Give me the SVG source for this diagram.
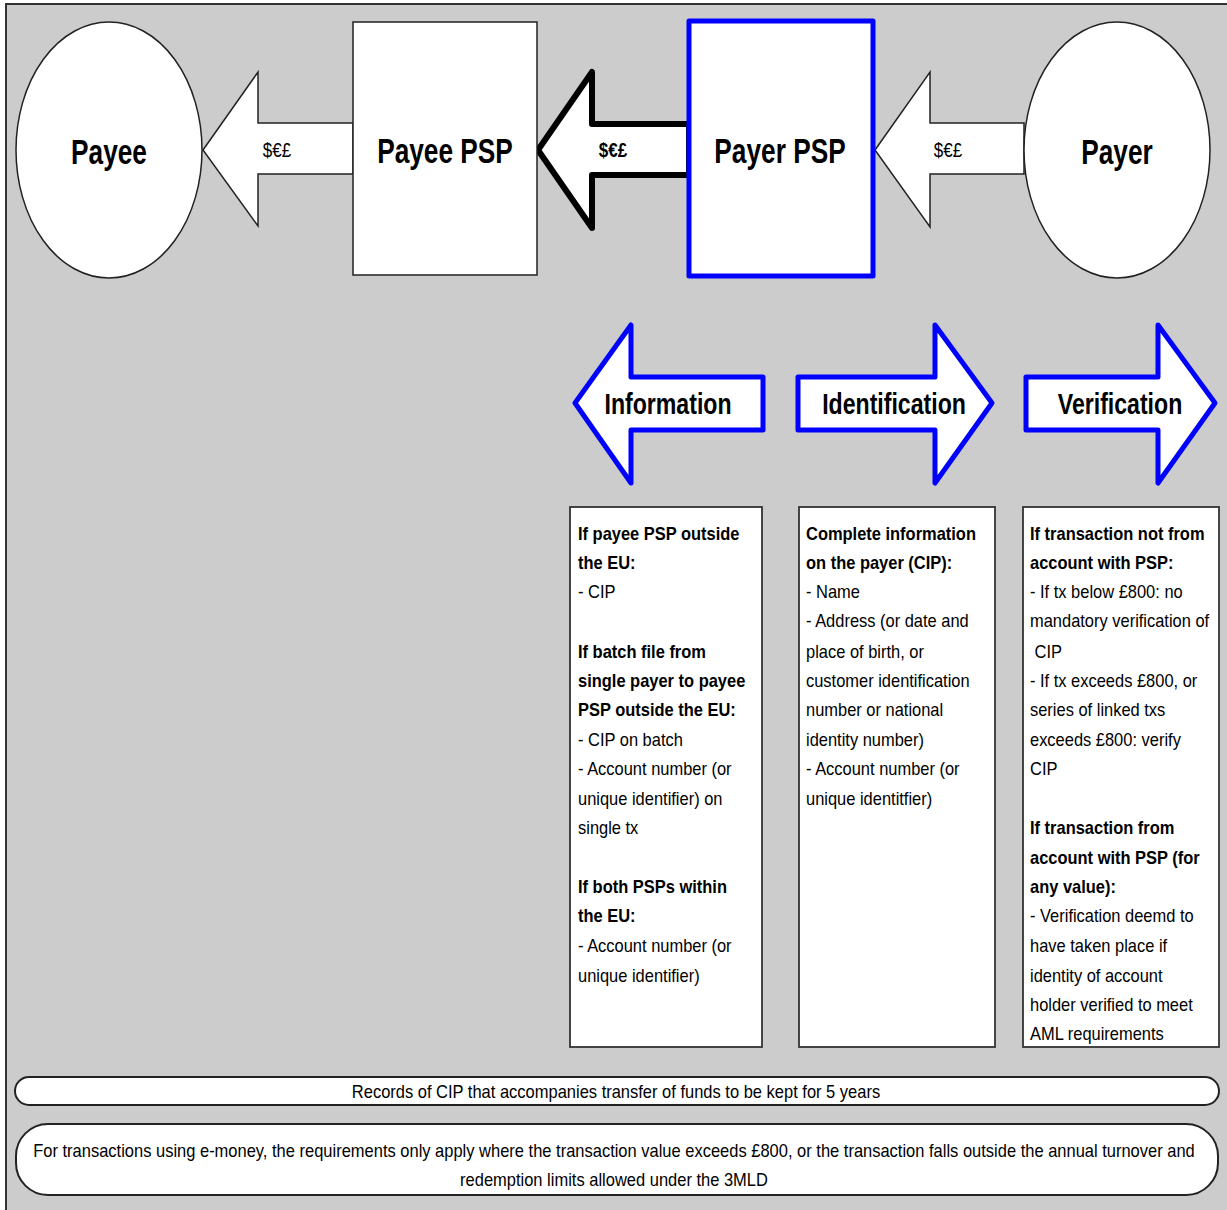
<svg xmlns="http://www.w3.org/2000/svg" width="1227" height="1210" viewBox="0 0 1227 1210">
<defs>
<style>
.bg{fill:#cccccc;stroke:#333;stroke-width:2}
.node{fill:#fff;stroke:#222;stroke-width:1.5}
.blue{fill:#fff;stroke:#0000ff;stroke-width:5;stroke-linejoin:round}
.thin{fill:#fff;stroke:#222;stroke-width:1.5;stroke-linejoin:miter}
.thick{fill:#fff;stroke:#000;stroke-width:6;stroke-linejoin:round}
.box{fill:#fff;stroke:#333;stroke-width:1.8}
.pill{fill:#fff;stroke:#222;stroke-width:2}
text{font-family:"Liberation Sans",Arial,sans-serif;fill:#000}
.big{font-size:35px;font-weight:bold;text-anchor:middle}
.mid{font-size:30px;font-weight:bold;text-anchor:middle}
.cur{font-size:20px;text-anchor:middle}
.t{font-size:19px}
.b{font-weight:bold}
.c{text-anchor:middle;font-size:19px}
</style>
</defs>
<rect class="bg" x="6" y="4" width="1230" height="1220"/>

<g id="connectors">
<path class="thin" d="M203,150 L258,72 L258,123 L353,123 L353,174 L258,174 L258,226 Z"/>
<g transform="translate(277,0) scale(0.85,1)"><text class="cur" x="0" y="157">$€£</text></g>
<path class="thick" d="M538,150 L592,72 L592,124 L689,124 L689,175 L592,175 L592,228 Z"/>
<g transform="translate(613,0) scale(0.85,1)"><text class="cur b" x="0" y="157">$€£</text></g>
<path class="thin" d="M875,150 L930,72 L930,123 L1024,123 L1024,174 L930,174 L930,227 Z"/>
<g transform="translate(948,0) scale(0.85,1)"><text class="cur" x="0" y="157">$€£</text></g>
</g>

<g id="payee">
<ellipse class="node" cx="109" cy="150" rx="93" ry="128"/>
<g transform="translate(109,0) scale(0.75,1)"><text class="big" x="0" y="164">Payee</text></g>
</g>
<g id="payee-psp">
<rect class="node" x="353" y="22" width="184" height="253"/>
<g transform="translate(445,0) scale(0.75,1)"><text class="big" x="0" y="163">Payee PSP</text></g>
</g>
<g id="payer-psp">
<rect class="blue" x="689" y="21" width="184" height="255" stroke-linejoin="miter"/>
<g transform="translate(780,0) scale(0.75,1)"><text class="big" x="0" y="163">Payer PSP</text></g>
</g>
<g id="payer">
<ellipse class="node" cx="1117" cy="150" rx="93" ry="128"/>
<g transform="translate(1117,0) scale(0.75,1)"><text class="big" x="0" y="164">Payer</text></g>
</g>

<g id="information">
<path class="blue" d="M575,403 L631,325 L631,377 L763,377 L763,430 L631,430 L631,483 Z"/>
<g transform="translate(668,0) scale(0.77,1)"><text class="mid" x="0" y="414">Information</text></g>
</g>
<g id="identification">
<path class="blue" d="M798,377 L935,377 L935,325 L992,403 L935,483 L935,430 L798,430 Z"/>
<g transform="translate(894,0) scale(0.77,1)"><text class="mid" x="0" y="414">Identification</text></g>
</g>
<g id="verification">
<path class="blue" d="M1026,377 L1158,377 L1158,325 L1215,403 L1158,483 L1158,430 L1026,430 Z"/>
<g transform="translate(1120,0) scale(0.77,1)"><text class="mid" x="0" y="414">Verification</text></g>
</g>

<g id="info-box">
<rect class="box" x="570" y="507" width="192" height="540"/>
<g transform="translate(578,0) scale(0.866,1)">
<text class="t">
<tspan class="b" x="0" y="540">If payee PSP outside</tspan>
<tspan class="b" x="0" y="569">the EU:</tspan>
<tspan x="0" y="598">- CIP</tspan>
<tspan class="b" x="0" y="658">If batch file from</tspan>
<tspan class="b" x="0" y="687">single payer to payee</tspan>
<tspan class="b" x="0" y="716">PSP outside the EU:</tspan>
<tspan x="0" y="746">- CIP on batch</tspan>
<tspan x="0" y="775">- Account number (or</tspan>
<tspan x="0" y="805">unique identifier) on</tspan>
<tspan x="0" y="834">single tx</tspan>
<tspan class="b" x="0" y="893">If both PSPs within</tspan>
<tspan class="b" x="0" y="922">the EU:</tspan>
<tspan x="0" y="952">- Account number (or</tspan>
<tspan x="0" y="982">unique identifier)</tspan>
</text>
</g>
</g>

<g id="ident-box">
<rect class="box" x="799" y="507" width="196" height="540"/>
<g transform="translate(806,0) scale(0.866,1)">
<text class="t">
<tspan class="b" x="0" y="540">Complete information</tspan>
<tspan class="b" x="0" y="569">on the payer (CIP):</tspan>
<tspan x="0" y="598">- Name</tspan>
<tspan x="0" y="627">- Address (or date and</tspan>
<tspan x="0" y="658">place of birth, or</tspan>
<tspan x="0" y="687">customer identification</tspan>
<tspan x="0" y="716">number or national</tspan>
<tspan x="0" y="746">identity number)</tspan>
<tspan x="0" y="775">- Account number (or</tspan>
<tspan x="0" y="805">unique identitfier)</tspan>
</text>
</g>
</g>

<g id="verif-box">
<rect class="box" x="1023" y="507" width="196" height="540"/>
<g transform="translate(1030,0) scale(0.866,1)">
<text class="t">
<tspan class="b" x="0" y="540">If transaction not from</tspan>
<tspan class="b" x="0" y="569">account with PSP:</tspan>
<tspan x="0" y="598">- If tx below £800: no</tspan>
<tspan x="0" y="627">mandatory verification of</tspan>
<tspan x="0" y="658" xml:space="preserve"> CIP</tspan>
<tspan x="0" y="687">- If tx exceeds £800, or</tspan>
<tspan x="0" y="716">series of linked txs</tspan>
<tspan x="0" y="746">exceeds £800: verify</tspan>
<tspan x="0" y="775">CIP</tspan>
<tspan class="b" x="0" y="834">If transaction from</tspan>
<tspan class="b" x="0" y="864">account with PSP (for</tspan>
<tspan class="b" x="0" y="893">any value):</tspan>
<tspan x="0" y="922">- Verification deemd to</tspan>
<tspan x="0" y="952">have taken place if</tspan>
<tspan x="0" y="982">identity of account</tspan>
<tspan x="0" y="1011">holder verified to meet</tspan>
<tspan x="0" y="1040">AML requirements</tspan>
</text>
</g>
</g>

<g id="records">
<rect class="pill" x="15" y="1077" width="1204" height="28" rx="14" ry="14"/>
<g transform="translate(616,0) scale(0.868,1)"><text class="c" x="0" y="1098">Records of CIP that accompanies transfer of funds to be kept for 5 years</text></g>
</g>
<g id="emoney">
<rect class="pill" x="16" y="1124" width="1202" height="71" rx="32" ry="32"/>
<g transform="translate(614,0) scale(0.868,1)">
<text class="c" x="0" y="1157">For transactions using e-money, the requirements only apply where the transaction value exceeds £800, or the transaction falls outside the annual turnover and</text>
<text class="c" x="0" y="1186">redemption limits allowed under the 3MLD</text>
</g>
</g>
</svg>
